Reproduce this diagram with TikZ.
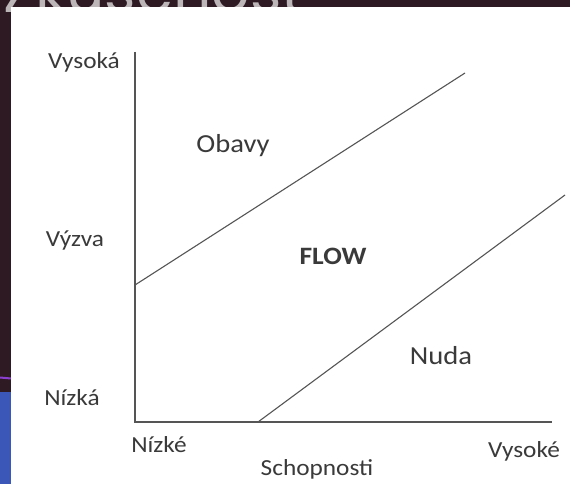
\documentclass[tikz,border=0pt]{standalone}
\usepackage{fontspec}
\setmainfont{Carlito}
\newfontfamily\titlefont{Poppins}
\definecolor{bgdark}{HTML}{2E1A23}
\definecolor{titlegray}{HTML}{BDB6B9}
\definecolor{stripblue}{HTML}{3B57B8}
\definecolor{accentpurple}{HTML}{8A3FD0}
\definecolor{labelgray}{HTML}{3A3A3A}
\definecolor{linegray}{HTML}{555555}
% labels are set slightly wider than the font's natural width
\newcommand{\widetext}[1]{\scalebox{1.1}[1]{#1}}
\tikzset{
  lbl/.style={font=\fontsize{23}{25}\selectfont, text=labelgray, inner sep=0pt},
  region/.style={font=\fontsize{26}{28}\selectfont, text=labelgray, inner sep=0pt},
  axisline/.style={draw=linegray, line width=1.4pt},
  bound/.style={draw=linegray, line width=1.1pt},
}
\begin{document}
\begin{tikzpicture}[x=1pt, y=-1pt]
  \useasboundingbox (0,0) rectangle (570,484);
  % slide background and title
  \fill[bgdark] (0,0) rectangle (570,484);
  \node[anchor=base west, inner sep=0pt, text=titlegray,
        font=\titlefont\fontsize{60}{64}\selectfont] (title) at (3,13) {Zkušenost};
  \fill[stripblue] (0,392) rectangle (11,484);
  \draw[accentpurple, line width=2pt] (0,377.5) -- (11,378.5);
  % white panel
  \fill[white] (11,7) rectangle (570,484);
  % axes
  \coordinate (o) at (135,422);
  \coordinate (ytop) at (135,52);
  \coordinate (xend) at (552,422);
  \draw[axisline] (ytop) -- (o) -- (xend);
  % zone boundaries
  \coordinate (ua) at (135,285);
  \coordinate (ub) at (465,73);
  \coordinate (la) at (258,422);
  \coordinate (lb) at (565,195);
  \draw[bound] (ua) -- (ub);
  \draw[bound] (la) -- (lb);
  % axis labels
  \node[lbl] (yhigh) at (84,62) {\widetext{Vysoká}};
  \node[lbl] (ymid) at (75,240) {\widetext{Výzva}};
  \node[lbl] (ylow) at (72,398) {\widetext{Nízká}};
  \node[lbl] (xlow) at (159,445) {\widetext{Nízké}};
  \node[lbl] (xhigh) at (524,451) {\widetext{Vysoké}};
  \node[lbl] (xname) at (317,469) {\widetext{Schopnosti}};
  % zones
  \node[region] (anx) at (233,146) {\widetext{Obavy}};
  \node[region, font=\bfseries\fontsize{25}{27}\selectfont] (flow) at (333,256) {\widetext{FLOW}};
  \node[region] (bor) at (441,356) {\widetext{Nuda}};
\end{tikzpicture}
\end{document}
